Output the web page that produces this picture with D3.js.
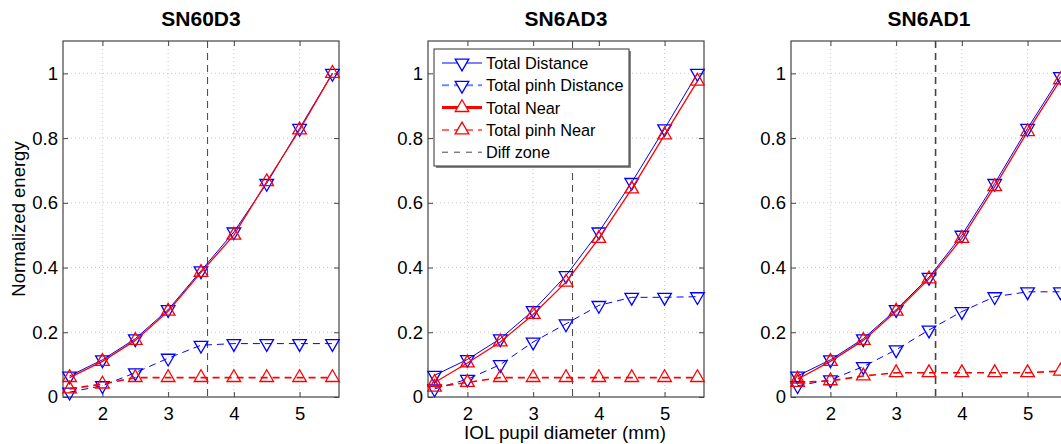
<!DOCTYPE html>
<html>
<head>
<meta charset="utf-8">
<script src="https://cdn.jsdelivr.net/npm/d3@7"></script>
<style>
  body { margin: 0; background: #fff; }
  svg { display: block; font-family: "Liberation Sans", Arial, sans-serif; }
</style>
</head>
<body>
<svg width="1061" height="444"></svg>
<script>
const diameters = [1.5, 2, 2.5, 3, 3.5, 4, 4.5, 5, 5.5]
const lenses = ['SN60D3', 'SN6AD3', 'SN6AD1']
const diffZone = 3.6
const xTicks = [2, 3, 4, 5]
const yTicks = [0, 0.2, 0.4, 0.6, 0.8, 1]

// one row per lens
const totalDistance = [
  [0.065, 0.115, 0.18, 0.27, 0.39, 0.51, 0.66, 0.83, 1.0],
  [0.067, 0.116, 0.18, 0.267, 0.375, 0.51, 0.663, 0.829, 1.0],
  [0.065, 0.115, 0.18, 0.27, 0.37, 0.5, 0.66, 0.83, 0.99]
]
const totalPinhDistance = [
  [0.015, 0.035, 0.075, 0.12, 0.16, 0.165, 0.165, 0.165, 0.165],
  [0.025, 0.055, 0.1, 0.17, 0.226, 0.283, 0.308, 0.308, 0.31],
  [0.035, 0.053, 0.094, 0.146, 0.207, 0.264, 0.31, 0.325, 0.325]
]
const totalNear = [
  [0.06, 0.11, 0.175, 0.265, 0.385, 0.5, 0.665, 0.825, 1.0],
  [0.045, 0.105, 0.17, 0.255, 0.355, 0.49, 0.643, 0.81, 0.976],
  [0.055, 0.11, 0.175, 0.265, 0.365, 0.49, 0.65, 0.82, 0.98]
]
const totalPinhNear = [
  [0.025, 0.04, 0.06, 0.06, 0.06, 0.06, 0.06, 0.06, 0.06],
  [0.03, 0.045, 0.06, 0.06, 0.06, 0.06, 0.06, 0.06, 0.06],
  [0.045, 0.05, 0.065, 0.075, 0.075, 0.075, 0.075, 0.075, 0.08]
]

const seriesStyle = [
  { name: 'Total Distance', values: totalDistance, color: '#0000ff', width: 1, dash: null, shape: 'down', legendWidth: 1 },
  { name: 'Total pinh Distance', values: totalPinhDistance, color: '#0000ff', width: 1, dash: '7,5', shape: 'down', legendWidth: 2, legendColor: '#6f86ff' },
  { name: 'Total Near', values: totalNear, color: '#ff0000', width: 1.3, dash: null, shape: 'up', legendWidth: 3 },
  { name: 'Total pinh Near', values: totalPinhNear, color: '#ff0000', width: 1.6, dash: '7,5', shape: 'up', legendWidth: 2, legendColor: '#ff6a6a' }
]

const panelLeft = [63, 428, 791]
const panelW = 276
const plotTop = 41
const plotBottom = 397

const svg = d3.select('svg')
const tri = d3.symbol().type(d3.symbolTriangle).size(80)

lenses.forEach((lens, i) => {
  const x = d3.scaleLinear().domain([1.4, 5.6]).range([panelLeft[i], panelLeft[i] + panelW])
  const y = d3.scaleLinear().domain([0, 1.1]).range([plotBottom, plotTop])
  const g = svg.append('g')

  // grid
  g.append('g').selectAll('line').data(xTicks).join('line')
    .attr('x1', d => x(d)).attr('x2', d => x(d))
    .attr('y1', plotTop).attr('y2', plotBottom)
    .attr('stroke', '#c8c8c8').attr('stroke-dasharray', '1,3')
  g.append('g').selectAll('line').data(yTicks.slice(1)).join('line')
    .attr('x1', x.range()[0]).attr('x2', x.range()[1])
    .attr('y1', d => y(d)).attr('y2', d => y(d))
    .attr('stroke', '#c8c8c8').attr('stroke-dasharray', '1,3')

  // axes (MATLAB style ticks inside, mirrored)
  const ax = g.append('g')
  ax.append('g').attr('transform', `translate(0,${plotBottom})`)
    .call(d3.axisBottom(x).tickValues(xTicks).tickFormat(d3.format('~g')).tickSizeInner(-5).tickSizeOuter(0).tickPadding(10))
  ax.append('g').attr('transform', `translate(${x.range()[0]},0)`)
    .call(d3.axisLeft(y).tickValues(yTicks).tickFormat(d3.format('~g')).tickSizeInner(-5).tickSizeOuter(0).tickPadding(5))
  ax.append('g').attr('transform', `translate(0,${plotTop})`)
    .call(d3.axisTop(x).tickValues(xTicks).tickSizeInner(-5).tickSizeOuter(0).tickFormat(''))
  ax.append('g').attr('transform', `translate(${x.range()[1]},0)`)
    .call(d3.axisRight(y).tickValues(yTicks).tickSizeInner(-5).tickSizeOuter(0).tickFormat(''))
  ax.selectAll('.domain').remove()
  ax.selectAll('.tick line').attr('stroke', '#444')
  ax.selectAll('text').attr('font-family', '"Liberation Sans", Arial, sans-serif').attr('font-size', 18.5).attr('fill', '#000')
  g.append('rect')
    .attr('x', x.range()[0]).attr('y', plotTop)
    .attr('width', panelW).attr('height', plotBottom - plotTop)
    .attr('fill', 'none').attr('stroke', '#444').attr('stroke-width', 1.2)

  // diff zone
  g.append('line')
    .attr('x1', x(diffZone)).attr('x2', x(diffZone))
    .attr('y1', plotTop).attr('y2', plotBottom)
    .attr('stroke', '#444').attr('stroke-width', i === 2 ? 1.6 : 1)
    .attr('stroke-dasharray', '7,5')

  // series
  seriesStyle.forEach(s => {
    const pts = diameters.map((d, k) => [d, s.values[i][k]])
    g.append('path')
      .attr('d', d3.line().x(d => x(d[0])).y(d => y(d[1]))(pts))
      .attr('fill', 'none').attr('stroke', s.color)
      .attr('stroke-width', s.width)
      .attr('stroke-dasharray', s.dash)
    g.append('g').selectAll('path').data(pts).join('path')
      .attr('d', tri)
      .attr('transform', d => `translate(${x(d[0])},${y(d[1])})` + (s.shape === 'down' ? ' rotate(180)' : ''))
      .attr('fill', 'none').attr('stroke', s.color).attr('stroke-width', 1.3)
  })

  // title
  svg.append('text')
    .attr('x', x.range()[0] + panelW / 2).attr('y', 25.5)
    .attr('text-anchor', 'middle').attr('font-weight', 'bold').attr('font-size', 21)
    .text(lens)
})

// axis labels
svg.append('text')
  .attr('transform', 'translate(25,219) rotate(-90)')
  .attr('text-anchor', 'middle').attr('font-size', 18.5)
  .text('Normalized energy')
svg.append('text')
  .attr('x', 565).attr('y', 439)
  .attr('text-anchor', 'middle').attr('font-size', 18.8)
  .text('IOL pupil diameter (mm)')

// legend in middle panel
const leg = svg.append('g').attr('transform', 'translate(434,49)')
leg.append('rect').attr('x', 2).attr('y', 2).attr('width', 195).attr('height', 117).attr('fill', '#888')
leg.append('rect').attr('width', 195).attr('height', 117).attr('fill', '#fff').attr('stroke', '#333')
const legItems = seriesStyle.concat([{ name: 'Diff zone', color: '#444', dash: '6,6', legendWidth: 1 }])
legItems.forEach((s, k) => {
  const ry = 14 + k * 22.3
  leg.append('line')
    .attr('x1', 8).attr('x2', 48).attr('y1', ry).attr('y2', ry)
    .attr('stroke', s.legendColor || s.color).attr('stroke-width', s.legendWidth)
    .attr('stroke-dasharray', s.dash)
  if (s.shape) {
    leg.append('path').attr('d', tri)
      .attr('transform', `translate(28,${ry})` + (s.shape === 'down' ? ' rotate(180)' : ''))
      .attr('fill', '#fff').attr('stroke', s.color).attr('stroke-width', 1.3)
  }
  leg.append('text').attr('x', 52).attr('y', ry + 6)
    .attr('font-size', 16.3).text(s.name)
})
</script>
</body>
</html>
